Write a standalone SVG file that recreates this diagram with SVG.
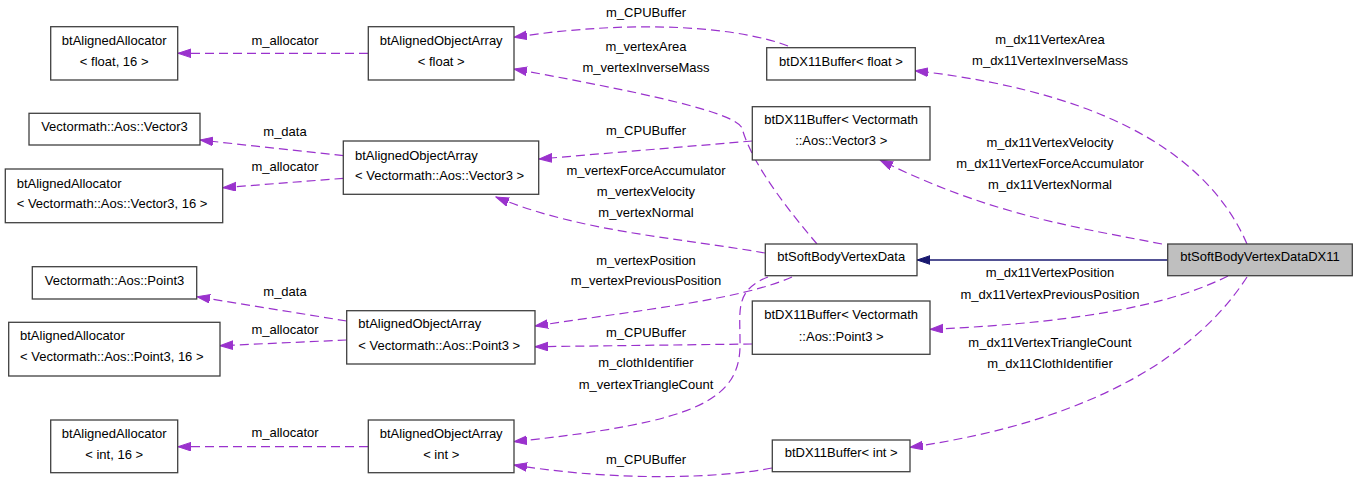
<svg xmlns="http://www.w3.org/2000/svg" width="1357" height="482" viewBox="0 0 1357 482">
<style>
.n rect{fill:#ffffff;stroke:#404040;stroke-width:1.3}
.n text,.lbl text{font-family:"Liberation Sans",Arial,sans-serif;font-size:13px;fill:#000000}
.c{text-anchor:middle}
.e{fill:none;stroke:#9a32cd;stroke-width:1.2;stroke-dasharray:9,5}
.inh{fill:none;stroke:#191970;stroke-width:1.3}
</style>
<defs>
<marker id="ap" markerWidth="14" markerHeight="10" refX="13" refY="4.6" orient="auto" markerUnits="userSpaceOnUse"><path d="M0,0.3 L13,4.6 L0,8.9 z" fill="#9a32cd" stroke="#9a32cd" stroke-width="1"/></marker>
<marker id="ab" markerWidth="14" markerHeight="10" refX="13" refY="4.6" orient="auto" markerUnits="userSpaceOnUse"><path d="M0,0.3 L13,4.6 L0,8.9 z" fill="#191970" stroke="#191970" stroke-width="1"/></marker>
</defs>
<rect width="1357" height="482" fill="#ffffff"/>
<g id="edges">
<path class="e" marker-end="url(#ap)" d="M368,53.3 L178,53.3"/>
<path class="e" marker-end="url(#ap)" d="M343.5,155.7 L200,140"/>
<path class="e" marker-end="url(#ap)" d="M343.5,178.3 L223,187.7"/>
<path class="e" marker-end="url(#ap)" d="M346.7,321 L197,296.7"/>
<path class="e" marker-end="url(#ap)" d="M346.7,340 L220,345.7"/>
<path class="e" marker-end="url(#ap)" d="M368,446.7 L178,446.7"/>
<path class="e" marker-end="url(#ap)" d="M788,46 C742,28 640,18 514,37.3"/>
<path class="e" marker-end="url(#ap)" d="M817,244 C790,212 752,165 742,128 C735,112 640,92 514,69"/>
<path class="e" marker-end="url(#ap)" d="M752.3,141 L539,159"/>
<path class="e" marker-end="url(#ap)" d="M765,253 C680,238 580,232 496,197"/>
<path class="e" marker-end="url(#ap)" d="M792,277 C740,300 640,310 535,326"/>
<path class="e" marker-end="url(#ap)" d="M752.3,344 L535,346.7"/>
<path class="e" marker-end="url(#ap)" d="M768,277 C735,290 740,310 740,340 C742,400 700,422 514,441.7"/>
<path class="e" marker-end="url(#ap)" d="M772,468 C720,478 620,482 514,465"/>
<path class="e" marker-end="url(#ap)" d="M1247,244 C1215,170 1130,95 915,70.7"/>
<path class="e" marker-end="url(#ap)" d="M1162,244 C1080,228 990,215 880,160"/>
<path class="e" marker-end="url(#ap)" d="M1228,276 C1180,300 1100,322 930,329.3"/>
<path class="e" marker-end="url(#ap)" d="M1247,277 C1200,350 1100,420 910,447.3"/>
<path class="inh" marker-end="url(#ab)" d="M1167.7,260 L917,260"/>
</g>
<g class="lbl">
<text class="c" x="285" y="44.5">m_allocator</text>
<text class="c" x="285" y="136.2">m_data</text>
<text class="c" x="285" y="171.2">m_allocator</text>
<text class="c" x="285" y="296.2">m_data</text>
<text class="c" x="285" y="333.5">m_allocator</text>
<text class="c" x="285" y="437.2">m_allocator</text>
<text class="c" x="646" y="17.2">m_CPUBuffer</text>
<text class="c" x="646" y="51.2">m_vertexArea</text>
<text class="c" x="646" y="72.2">m_vertexInverseMass</text>
<text class="c" x="646" y="135.2">m_CPUBuffer</text>
<text class="c" x="646" y="175.2">m_vertexForceAccumulator</text>
<text class="c" x="646" y="196.2">m_vertexVelocity</text>
<text class="c" x="646" y="216.8">m_vertexNormal</text>
<text class="c" x="646" y="264.5">m_vertexPosition</text>
<text class="c" x="646" y="285.2">m_vertexPreviousPosition</text>
<text class="c" x="646" y="336.8">m_CPUBuffer</text>
<text class="c" x="646" y="367.2">m_clothIdentifier</text>
<text class="c" x="646" y="388.5">m_vertexTriangleCount</text>
<text class="c" x="646" y="463.5">m_CPUBuffer</text>
<text class="c" x="1050" y="43.8">m_dx11VertexArea</text>
<text class="c" x="1050" y="65.2">m_dx11VertexInverseMass</text>
<text class="c" x="1050" y="147.2">m_dx11VertexVelocity</text>
<text class="c" x="1050" y="168.2">m_dx11VertexForceAccumulator</text>
<text class="c" x="1050" y="188.8">m_dx11VertexNormal</text>
<text class="c" x="1050" y="276.8">m_dx11VertexPosition</text>
<text class="c" x="1050" y="298.8">m_dx11VertexPreviousPosition</text>
<text class="c" x="1050" y="347.2">m_dx11VertexTriangleCount</text>
<text class="c" x="1050" y="368.2">m_dx11ClothIdentifier</text>
</g>
<g id="n_alloc_float" class="n"><rect x="50.7" y="26.7" width="127" height="53.3"/><text class="c" x="114.2" y="44.5">btAlignedAllocator</text><text class="c" x="114.2" y="65.7">&lt; float, 16 &gt;</text></g>
<g id="n_array_float" class="n"><rect x="368.3" y="26.7" width="145.7" height="53.3"/><text class="c" x="441.2" y="44.5">btAlignedObjectArray</text><text class="c" x="441.2" y="65.7">&lt; float &gt;</text></g>
<g id="n_vector3" class="n"><rect x="29" y="113.3" width="171" height="31.7"/><text class="c" x="114.5" y="131.2">Vectormath::Aos::Vector3</text></g>
<g id="n_alloc_vector3" class="n"><rect x="5.3" y="169" width="217.4" height="53.7"/><text x="16.7" y="187.5">btAlignedAllocator</text><text x="16.7" y="208.3">&lt; Vectormath::Aos::Vector3, 16 &gt;</text></g>
<g id="n_array_vector3" class="n"><rect x="343.3" y="141" width="195.4" height="53.3"/><text x="355" y="159.5">btAlignedObjectArray</text><text x="355" y="180.3">&lt; Vectormath::Aos::Vector3 &gt;</text></g>
<g id="n_point3" class="n"><rect x="32.3" y="266.7" width="164.4" height="32.3"/><text class="c" x="114.5" y="284.5">Vectormath::Aos::Point3</text></g>
<g id="n_alloc_point3" class="n"><rect x="8.7" y="322.3" width="211.3" height="53.7"/><text x="20" y="340.2">btAlignedAllocator</text><text x="20" y="361.2">&lt; Vectormath::Aos::Point3, 16 &gt;</text></g>
<g id="n_alloc_int" class="n"><rect x="50.7" y="420" width="127" height="52.7"/><text class="c" x="114.2" y="437.5">btAlignedAllocator</text><text class="c" x="114.2" y="458.8">&lt; int, 16 &gt;</text></g>
<g id="n_array_point3" class="n"><rect x="346.7" y="310.7" width="188.3" height="53.3"/><text x="358.3" y="328.2">btAlignedObjectArray</text><text x="358.3" y="349.5">&lt; Vectormath::Aos::Point3 &gt;</text></g>
<g id="n_array_int" class="n"><rect x="368.3" y="420" width="145.7" height="52.7"/><text class="c" x="441.2" y="437.5">btAlignedObjectArray</text><text class="c" x="441.2" y="458.8">&lt; int &gt;</text></g>
<g id="n_dx11_float" class="n"><rect x="766.7" y="47.7" width="148.6" height="32.3"/><text class="c" x="841" y="65.5">btDX11Buffer&lt; float &gt;</text></g>
<g id="n_dx11_vector3" class="n"><rect x="752.3" y="106.7" width="177.7" height="53.3"/><text class="c" x="841.2" y="123.5">btDX11Buffer&lt; Vectormath</text><text class="c" x="841.2" y="145.2">::Aos::Vector3 &gt;</text></g>
<g id="n_softbody" class="n"><rect x="765.3" y="244" width="151.7" height="31.7"/><text class="c" x="841.2" y="261.2">btSoftBodyVertexData</text></g>
<g id="n_dx11_point3" class="n"><rect x="752.3" y="301" width="177.7" height="53.3"/><text class="c" x="841.2" y="318.8">btDX11Buffer&lt; Vectormath</text><text class="c" x="841.2" y="340.5">::Aos::Point3 &gt;</text></g>
<g id="n_dx11_int" class="n"><rect x="772.3" y="440" width="137.7" height="31.7"/><text class="c" x="841.2" y="456.8">btDX11Buffer&lt; int &gt;</text></g>
<g id="n_softbody_dx11" class="n"><rect x="1167.7" y="244" width="184.6" height="31.7" style="fill:#bfbfbf"/><text class="c" x="1260" y="261.2">btSoftBodyVertexDataDX11</text></g>
</svg>
